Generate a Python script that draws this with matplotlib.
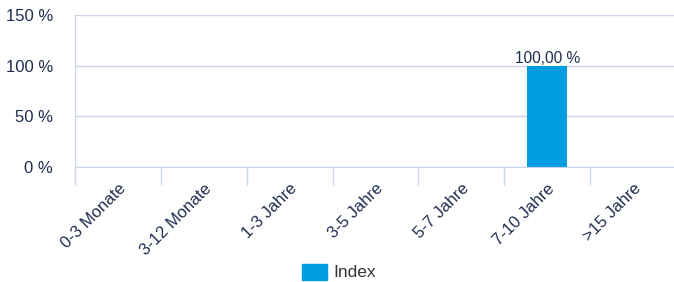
import matplotlib
matplotlib.use("Agg")
import matplotlib.pyplot as plt
import numpy as np
from matplotlib.patches import Patch

plt.rcParams['font.family'] = ['Liberation Sans', 'DejaVu Sans']

categories = ["0-3 Monate", "3-12 Monate", "1-3 Jahre", "3-5 Jahre", "5-7 Jahre", "7-10 Jahre", ">15 Jahre"]
values = [0, 0, 0, 0, 0, 100.0, 0]
yticks = [0, 50, 100, 150]
series_name = "Index"

W, H = 674, 282
fig = plt.figure(figsize=(W/100, H/100), dpi=100)
ax = fig.add_axes([75/W, 1-167/H, (676-75)/W, (167-15)/H])

grid_c = "#c9d5e8"
text_c = "#1f2d4f"
bar_c = "#009ee0"

x = np.arange(len(categories))
for xi, v in zip(x, values):
    if v > 0:
        ax.bar(xi, v, width=0.47, color=bar_c, zorder=3)
        ax.text(xi, v, f"{v:.2f}".replace(".", ",") + " %", ha="center", va="bottom",
                fontsize=11.2, color=text_c, zorder=4)

ax.set_xlim(-0.5, len(categories)-0.5)
ax.set_ylim(0, 150)
ax.set_yticks(yticks)
ax.set_yticklabels([f"{t} %" for t in yticks], fontsize=12, color=text_c)
ax.yaxis.grid(True, color=grid_c, linewidth=1)
ax.set_axisbelow(True)
ax.tick_params(axis='y', length=0, pad=16)

ax.set_xticks(x)
ax.set_xticklabels(categories, rotation=45, ha="right", rotation_mode="anchor",
                   fontsize=12, color=text_c)
ax.tick_params(axis='x', which='major', length=0, pad=10)
ax.set_xticks(np.arange(len(categories)+1) - 0.5, minor=True)
ax.tick_params(axis='x', which='minor', length=13, color=grid_c, width=1)

for s in ["top", "right"]:
    ax.spines[s].set_visible(False)
ax.spines["left"].set_color(grid_c)
ax.spines["bottom"].set_color(grid_c)

fig.legend(handles=[Patch(color=bar_c, label=series_name)], loc="center",
           bbox_to_anchor=(339/W, 1-272/H), frameon=False, fontsize=12.5,
           handlelength=1.4, handleheight=1.05, handletextpad=0.35,
           labelcolor="#333333")

fig.savefig("out.png", dpi=100)
